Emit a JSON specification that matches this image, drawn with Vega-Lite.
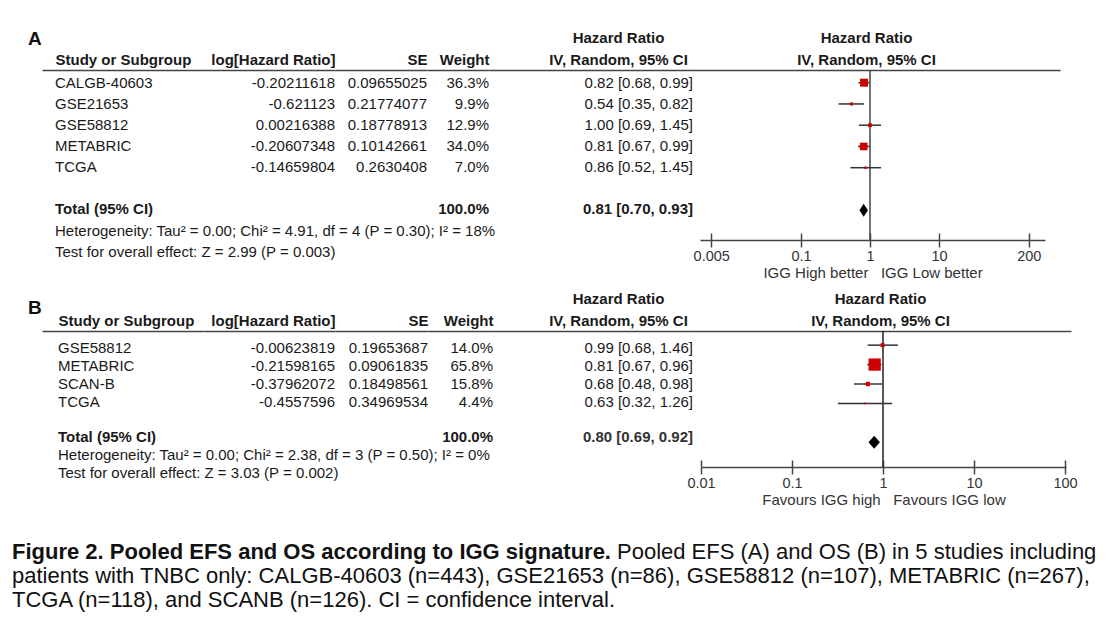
{
  "$schema": "https://vega.github.io/schema/vega-lite/v6.json",
  "background": "white",
  "padding": {"left": 12, "top": 30, "right": 10, "bottom": 0},
  "config": {
    "font": "Liberation Sans",
    "view": {"stroke": null},
    "text": {"color": "#1a1a1a"},
    "axisTop": {"ticks": false, "tickSize": 0, "domainColor": "#444", "domainWidth": 1.5, "labelFontWeight": "bold", "labelFontSize": 15, "labelColor": "#1a1a1a", "labelPadding": 3, "labelAngle": 0, "labelLimit": 500, "labelLineHeight": 22, "labelFlush": false, "labelOverlap": false, "grid": false},
    "axisBottom": {"tickSize": 7, "tickColor": "#444", "tickWidth": 1.5, "domainColor": "#444", "domainWidth": 1.5, "labelFontSize": 14.5, "labelColor": "#333", "labelPadding": 2, "titleFontWeight": "normal", "titleFontSize": 15, "titleColor": "#333", "titlePadding": 3, "grid": false, "labelFlush": false, "labelOverlap": false}
  },
  "datasets": {
    "studiesA": [
      {"study": "CALGB-40603", "loghr": -0.20211618, "se": 0.09655025, "weight": 0.363, "hr": 0.82, "lo": 0.68, "hi": 0.99},
      {"study": "GSE21653", "loghr": -0.621123, "se": 0.21774077, "weight": 0.099, "hr": 0.54, "lo": 0.35, "hi": 0.82},
      {"study": "GSE58812", "loghr": 0.00216388, "se": 0.18778913, "weight": 0.129, "hr": 1.0, "lo": 0.69, "hi": 1.45},
      {"study": "METABRIC", "loghr": -0.20607348, "se": 0.10142661, "weight": 0.34, "hr": 0.81, "lo": 0.67, "hi": 0.99},
      {"study": "TCGA", "loghr": -0.14659804, "se": 0.2630408, "weight": 0.07, "hr": 0.86, "lo": 0.52, "hi": 1.45}
    ],
    "totalA": [{"study": "Total (95% CI)", "weight": 1.0, "hr": 0.81, "lo": 0.70, "hi": 0.93}],
    "notesA": [
      {"line": "heterogeneity", "text": "Heterogeneity: Tau² = 0.00; Chi² = 4.91, df = 4 (P = 0.30); I² = 18%"},
      {"line": "overall effect", "text": "Test for overall effect: Z = 2.99 (P = 0.003)"}
    ],
    "studiesB": [
      {"study": "GSE58812", "loghr": -0.00623819, "se": 0.19653687, "weight": 0.14, "hr": 0.99, "lo": 0.68, "hi": 1.46},
      {"study": "METABRIC", "loghr": -0.21598165, "se": 0.09061835, "weight": 0.658, "hr": 0.81, "lo": 0.67, "hi": 0.96},
      {"study": "SCAN-B", "loghr": -0.37962072, "se": 0.18498561, "weight": 0.158, "hr": 0.68, "lo": 0.48, "hi": 0.98},
      {"study": "TCGA", "loghr": -0.4557596, "se": 0.34969534, "weight": 0.044, "hr": 0.63, "lo": 0.32, "hi": 1.26}
    ],
    "totalB": [{"study": "Total (95% CI)", "weight": 1.0, "hr": 0.80, "lo": 0.69, "hi": 0.92}],
    "notesB": [
      {"line": "heterogeneity", "text": "Heterogeneity: Tau² = 0.00; Chi² = 2.38, df = 3 (P = 0.50); I² = 0%"},
      {"line": "overall effect", "text": "Test for overall effect: Z = 3.03 (P = 0.002)"}
    ],
    "caption": [
      {"line": "1", "part": "bold", "text": "Figure 2. Pooled EFS and OS according to IGG signature."},
      {"line": "1", "part": "lead", "text": "Pooled EFS (A) and OS (B) in 5 studies including"},
      {"line": "2", "part": "body", "text": "patients with TNBC only: CALGB-40603 (n=443), GSE21653 (n=86), GSE58812 (n=107), METABRIC (n=267),"},
      {"line": "3", "part": "body", "text": "TCGA (n=118), and SCANB (n=126). CI = confidence interval."}
    ]
  },
  "spacing": 32,
  "vconcat": [
    {
      "spacing": 10,
      "vconcat": [
        {
          "title": {"text": "A", "anchor": "start", "fontSize": 19, "fontWeight": "bold", "dx": -14, "offset": -19, "color": "#111"},
          "spacing": 0,
          "bounds": "flush",
          "resolve": {"scale": {"x": "independent", "y": "independent"}},
          "hconcat": [
            {
              "width": 160, "height": 194.6,
              "encoding": {
                "x": {"datum": "Study or Subgroup", "type": "nominal", "scale": {"type": "point", "align": 0.08125}, "axis": {"orient": "top", "labelAlign": "left", "title": null}},
                "y": {"field": "study", "type": "nominal", "scale": {"type": "point", "domain": ["CALGB-40603", "GSE21653", "GSE58812", "METABRIC", "TCGA", "gap", "Total (95% CI)", "heterogeneity", "overall effect"], "padding": 0.617}, "axis": null}
              },
              "layer": [
                {"data": {"name": "studiesA"}, "mark": {"type": "text", "align": "left", "baseline": "middle", "fontSize": 15}, "encoding": {"text": {"field": "study", "type": "nominal"}}},
                {"data": {"name": "totalA"}, "mark": {"type": "text", "align": "left", "baseline": "middle", "fontSize": 15, "fontWeight": "bold"}, "encoding": {"text": {"field": "study", "type": "nominal"}}},
                {"data": {"name": "notesA"}, "mark": {"type": "text", "align": "left", "baseline": "middle", "fontSize": 15},
                 "encoding": {
                   "y": {"field": "line", "type": "nominal", "scale": {"type": "point", "domain": ["CALGB-40603", "GSE21653", "GSE58812", "METABRIC", "TCGA", "gap", "Total (95% CI)", "heterogeneity", "overall effect"], "padding": 0.617}, "axis": null},
                   "text": {"field": "text", "type": "nominal"}}}
              ]
            },
            {
              "width": 133, "height": 194.6,
              "data": {"name": "studiesA"},
              "mark": {"type": "text", "align": "right", "baseline": "middle", "fontSize": 15},
              "encoding": {
                "x": {"datum": "log[Hazard Ratio]", "type": "nominal", "scale": {"type": "point", "align": 1}, "axis": {"orient": "top", "labelAlign": "right", "title": null}},
                "y": {"field": "study", "type": "nominal", "scale": {"type": "point", "domain": ["CALGB-40603", "GSE21653", "GSE58812", "METABRIC", "TCGA", "gap", "Total (95% CI)", "heterogeneity", "overall effect"], "padding": 0.617}, "axis": null},
                "text": {"field": "loghr", "type": "nominal"}
              }
            },
            {
              "width": 92, "height": 194.6,
              "data": {"name": "studiesA"},
              "mark": {"type": "text", "align": "right", "baseline": "middle", "fontSize": 15},
              "encoding": {
                "x": {"datum": "SE", "type": "nominal", "scale": {"type": "point", "align": 1}, "axis": {"orient": "top", "labelAlign": "right", "title": null}},
                "y": {"field": "study", "type": "nominal", "scale": {"type": "point", "domain": ["CALGB-40603", "GSE21653", "GSE58812", "METABRIC", "TCGA", "gap", "Total (95% CI)", "heterogeneity", "overall effect"], "padding": 0.617}, "axis": null},
                "text": {"field": "se", "type": "nominal"}
              }
            },
            {
              "width": 62, "height": 194.6,
              "encoding": {
                "x": {"datum": "Weight", "type": "nominal", "scale": {"type": "point", "align": 1}, "axis": {"orient": "top", "labelAlign": "right", "title": null}},
                "y": {"field": "study", "type": "nominal", "scale": {"type": "point", "domain": ["CALGB-40603", "GSE21653", "GSE58812", "METABRIC", "TCGA", "gap", "Total (95% CI)", "heterogeneity", "overall effect"], "padding": 0.617}, "axis": null},
                "text": {"field": "weight", "type": "quantitative", "format": ".1%"}
              },
              "layer": [
                {"data": {"name": "studiesA"}, "mark": {"type": "text", "align": "right", "baseline": "middle", "fontSize": 15}},
                {"data": {"name": "totalA"}, "mark": {"type": "text", "align": "right", "baseline": "middle", "fontSize": 15, "fontWeight": "bold"}}
              ]
            },
            {
              "width": 204, "height": 194.6,
              "encoding": {
                "x": {"datum": "IV, Random, 95% CI", "type": "nominal", "scale": {"type": "point", "align": 1}, "axis": {"orient": "top", "labelAlign": "center", "labelOffset": -75, "labelPadding": 25, "labelExpr": "['Hazard Ratio', datum.label]", "title": null}},
                "y": {"field": "study", "type": "nominal", "scale": {"type": "point", "domain": ["CALGB-40603", "GSE21653", "GSE58812", "METABRIC", "TCGA", "gap", "Total (95% CI)", "heterogeneity", "overall effect"], "padding": 0.617}, "axis": null}
              },
              "layer": [
                {"data": {"name": "studiesA"}, "mark": {"type": "text", "align": "right", "baseline": "middle", "fontSize": 15, "text": {"expr": "format(datum.hr, '.2f') + ' [' + format(datum.lo, '.2f') + ', ' + format(datum.hi, '.2f') + ']'"}}},
                {"data": {"name": "totalA"}, "mark": {"type": "text", "align": "right", "baseline": "middle", "fontSize": 15, "fontWeight": "bold", "text": {"expr": "format(datum.hr, '.2f') + ' [' + format(datum.lo, '.2f') + ', ' + format(datum.hi, '.2f') + ']'"}}}
              ]
            },
            {
              "width": 367, "height": 170,
              "resolve": {"scale": {"x": "independent"}, "axis": {"x": "independent"}},
              "layer": [
                {
                  "data": {"name": "totalA"},
                  "mark": {"type": "rule", "color": "#444", "strokeWidth": 1.5},
                  "encoding": {
                    "x": {"datum": 1, "type": "quantitative", "scale": {"type": "log", "domain": [0.0027216, 567.0], "nice": false}, "axis": {"orient": "top", "values": [1], "labelAlign": "center", "labelOffset": -4, "labelPadding": 25, "labelExpr": "['Hazard Ratio', 'IV, Random, 95% CI']", "title": null}}
                  }
                },
                {
                  "encoding": {
                    "y": {"field": "study", "type": "nominal", "scale": {"type": "point", "domain": ["CALGB-40603", "GSE21653", "GSE58812", "METABRIC", "TCGA", "gap", "Total (95% CI)"], "padding": 1.032, "align": 0.299}, "axis": null}
                  },
                  "resolve": {"axis": {"x": "independent"}},
                  "layer": [
                    {
                      "data": {"name": "studiesA"},
                      "mark": {"type": "rule", "color": "#333", "strokeWidth": 1.5},
                      "encoding": {
                        "x": {"field": "lo", "type": "quantitative", "scale": {"type": "log", "domain": [0.0034376, 343.76], "range": [7, 352], "nice": false}, "axis": {"orient": "bottom", "values": [0.005, 0.1, 1, 10, 200], "format": "~g", "title": "IGG High better\u00a0\u00a0\u00a0IGG Low better"}},
                        "x2": {"field": "hi"}
                      }
                    },
                    {
                      "data": {"name": "studiesA"},
                      "mark": {"type": "square", "filled": true, "color": "#cc0000", "opacity": 1},
                      "encoding": {
                        "x": {"field": "hr", "type": "quantitative", "axis": {"orient": "bottom", "values": [0.005, 0.1, 1, 10, 200], "tickSize": -7, "labels": false, "domain": false, "title": null}},
                        "size": {"field": "weight", "type": "quantitative", "scale": {"type": "pow", "exponent": 1.45, "domain": [0, 0.363], "range": [0, 150]}, "legend": null}
                      }
                    },
                    {
                      "data": {"name": "totalA"},
                      "mark": {"type": "point", "shape": "M0,-1L0.65,0L0,1L-0.65,0Z", "filled": true, "opacity": 1, "color": "#000", "size": 169},
                      "encoding": {
                        "x": {"field": "hr", "type": "quantitative", "axis": null}
                      }
                    }
                  ]
                }
              ]
            }
          ]
        },
        {
          "title": {"text": "B", "anchor": "start", "fontSize": 19, "fontWeight": "bold", "dx": -14, "offset": -27, "color": "#111"},
          "spacing": 0,
          "bounds": "flush",
          "resolve": {"scale": {"x": "independent", "y": "independent"}},
          "hconcat": [
            {
              "width": 162, "height": 159.1,
              "encoding": {
                "x": {"datum": "Study or Subgroup", "type": "nominal", "scale": {"type": "point", "align": 0.0988}, "axis": {"orient": "top", "labelAlign": "left", "title": null}},
                "y": {"field": "study", "type": "nominal", "scale": {"type": "point", "domain": ["GSE58812", "METABRIC", "SCAN-B", "TCGA", "gap", "Total (95% CI)", "heterogeneity", "overall effect"], "padding": 0.951}, "axis": null}
              },
              "layer": [
                {"data": {"name": "studiesB"}, "mark": {"type": "text", "align": "left", "baseline": "middle", "fontSize": 15}, "encoding": {"text": {"field": "study", "type": "nominal"}}},
                {"data": {"name": "totalB"}, "mark": {"type": "text", "align": "left", "baseline": "middle", "fontSize": 15, "fontWeight": "bold"}, "encoding": {"text": {"field": "study", "type": "nominal"}}},
                {"data": {"name": "notesB"}, "mark": {"type": "text", "align": "left", "baseline": "middle", "fontSize": 15},
                 "encoding": {
                   "y": {"field": "line", "type": "nominal", "scale": {"type": "point", "domain": ["GSE58812", "METABRIC", "SCAN-B", "TCGA", "gap", "Total (95% CI)", "heterogeneity", "overall effect"], "padding": 0.951}, "axis": null},
                   "text": {"field": "text", "type": "nominal"}}}
              ]
            },
            {
              "width": 131, "height": 159.1,
              "data": {"name": "studiesB"},
              "mark": {"type": "text", "align": "right", "baseline": "middle", "fontSize": 15},
              "encoding": {
                "x": {"datum": "log[Hazard Ratio]", "type": "nominal", "scale": {"type": "point", "align": 1}, "axis": {"orient": "top", "labelAlign": "right", "title": null}},
                "y": {"field": "study", "type": "nominal", "scale": {"type": "point", "domain": ["GSE58812", "METABRIC", "SCAN-B", "TCGA", "gap", "Total (95% CI)", "heterogeneity", "overall effect"], "padding": 0.951}, "axis": null},
                "text": {"field": "loghr", "type": "nominal"}
              }
            },
            {
              "width": 93, "height": 159.1,
              "data": {"name": "studiesB"},
              "mark": {"type": "text", "align": "right", "baseline": "middle", "fontSize": 15},
              "encoding": {
                "x": {"datum": "SE", "type": "nominal", "scale": {"type": "point", "align": 1}, "axis": {"orient": "top", "labelAlign": "right", "title": null}},
                "y": {"field": "study", "type": "nominal", "scale": {"type": "point", "domain": ["GSE58812", "METABRIC", "SCAN-B", "TCGA", "gap", "Total (95% CI)", "heterogeneity", "overall effect"], "padding": 0.951}, "axis": null},
                "text": {"field": "se", "type": "nominal"}
              }
            },
            {
              "width": 65, "height": 159.1,
              "encoding": {
                "x": {"datum": "Weight", "type": "nominal", "scale": {"type": "point", "align": 1}, "axis": {"orient": "top", "labelAlign": "right", "title": null}},
                "y": {"field": "study", "type": "nominal", "scale": {"type": "point", "domain": ["GSE58812", "METABRIC", "SCAN-B", "TCGA", "gap", "Total (95% CI)", "heterogeneity", "overall effect"], "padding": 0.951}, "axis": null},
                "text": {"field": "weight", "type": "quantitative", "format": ".1%"}
              },
              "layer": [
                {"data": {"name": "studiesB"}, "mark": {"type": "text", "align": "right", "baseline": "middle", "fontSize": 15}},
                {"data": {"name": "totalB"}, "mark": {"type": "text", "align": "right", "baseline": "middle", "fontSize": 15, "fontWeight": "bold"}}
              ]
            },
            {
              "width": 200, "height": 159.1,
              "encoding": {
                "x": {"datum": "IV, Random, 95% CI", "type": "nominal", "scale": {"type": "point", "align": 1}, "axis": {"orient": "top", "labelAlign": "center", "labelOffset": -75, "labelPadding": 25, "labelExpr": "['Hazard Ratio', datum.label]", "title": null}},
                "y": {"field": "study", "type": "nominal", "scale": {"type": "point", "domain": ["GSE58812", "METABRIC", "SCAN-B", "TCGA", "gap", "Total (95% CI)", "heterogeneity", "overall effect"], "padding": 0.951}, "axis": null}
              },
              "layer": [
                {"data": {"name": "studiesB"}, "mark": {"type": "text", "align": "right", "baseline": "middle", "fontSize": 15, "text": {"expr": "format(datum.hr, '.2f') + ' [' + format(datum.lo, '.2f') + ', ' + format(datum.hi, '.2f') + ']'"}}},
                {"data": {"name": "totalB"}, "mark": {"type": "text", "align": "right", "baseline": "middle", "fontSize": 15, "fontWeight": "bold", "color": "#333", "text": {"expr": "format(datum.hr, '.2f') + ' [' + format(datum.lo, '.2f') + ', ' + format(datum.hi, '.2f') + ']'"}}}
              ]
            },
            {
              "width": 378, "height": 136,
              "resolve": {"scale": {"x": "independent"}, "axis": {"x": "independent"}},
              "layer": [
                {
                  "data": {"name": "totalB"},
                  "mark": {"type": "rule", "color": "#222", "strokeWidth": 1.5},
                  "encoding": {
                    "x": {"datum": 1, "type": "quantitative", "scale": {"type": "log", "domain": [0.008167, 116.4], "nice": false}, "axis": {"orient": "top", "values": [1], "labelAlign": "center", "labelOffset": -3, "labelPadding": 25, "labelExpr": "['Hazard Ratio', 'IV, Random, 95% CI']", "title": null}}
                  }
                },
                {
                  "encoding": {
                    "y": {"field": "study", "type": "nominal", "scale": {"type": "point", "domain": ["GSE58812", "METABRIC", "SCAN-B", "TCGA", "gap", "Total (95% CI)"], "padding": 1.305, "align": 0.364}, "axis": null}
                  },
                  "resolve": {"axis": {"x": "independent"}},
                  "layer": [
                    {
                      "data": {"name": "studiesB"},
                      "mark": {"type": "rule", "color": "#333", "strokeWidth": 1.5},
                      "encoding": {
                        "x": {"field": "lo", "type": "quantitative", "scale": {"type": "log", "domain": [0.01, 102.57], "range": [8, 373], "nice": false}, "axis": {"orient": "bottom", "values": [0.01, 0.1, 1, 10, 100], "format": "~g", "title": "Favours IGG high\u00a0\u00a0\u00a0Favours IGG low"}},
                        "x2": {"field": "hi"}
                      }
                    },
                    {
                      "data": {"name": "studiesB"},
                      "mark": {"type": "square", "filled": true, "color": "#cc0000", "opacity": 1},
                      "encoding": {
                        "x": {"field": "hr", "type": "quantitative", "axis": {"orient": "bottom", "values": [0.01, 0.1, 1, 10, 100], "tickSize": -7, "labels": false, "domain": false, "title": null}},
                        "size": {"field": "weight", "type": "quantitative", "scale": {"type": "pow", "exponent": 1.45, "domain": [0, 0.658], "range": [0, 330]}, "legend": null}
                      }
                    },
                    {
                      "data": {"name": "totalB"},
                      "mark": {"type": "point", "shape": "M0,-1L0.88,0L0,1L-0.88,0Z", "filled": true, "opacity": 1, "color": "#000", "size": 169},
                      "encoding": {
                        "x": {"field": "hr", "type": "quantitative", "axis": null}
                      }
                    }
                  ]
                }
              ]
            }
          ]
        }
      ]
    },
    {
      "width": 1018, "height": 72,
      "data": {"name": "caption"},
      "encoding": {
        "x": {"datum": "caption", "type": "nominal", "scale": {"type": "point", "align": 0}, "axis": null},
        "y": {"field": "line", "type": "nominal", "scale": {"type": "point", "domain": ["1", "2", "3"], "padding": 0.5}, "axis": null},
        "text": {"field": "text", "type": "nominal"}
      },
      "layer": [
        {"transform": [{"filter": "datum.part === 'bold'"}], "mark": {"type": "text", "align": "left", "baseline": "middle", "fontSize": 22, "fontWeight": "bold", "dx": -30, "color": "#111"}},
        {"transform": [{"filter": "datum.part === 'lead'"}], "mark": {"type": "text", "align": "left", "baseline": "middle", "fontSize": 22, "dx": 575, "color": "#111"}},
        {"transform": [{"filter": "datum.part === 'body'"}], "mark": {"type": "text", "align": "left", "baseline": "middle", "fontSize": 22, "dx": -30, "color": "#111"}}
      ]
    }
  ]
}
